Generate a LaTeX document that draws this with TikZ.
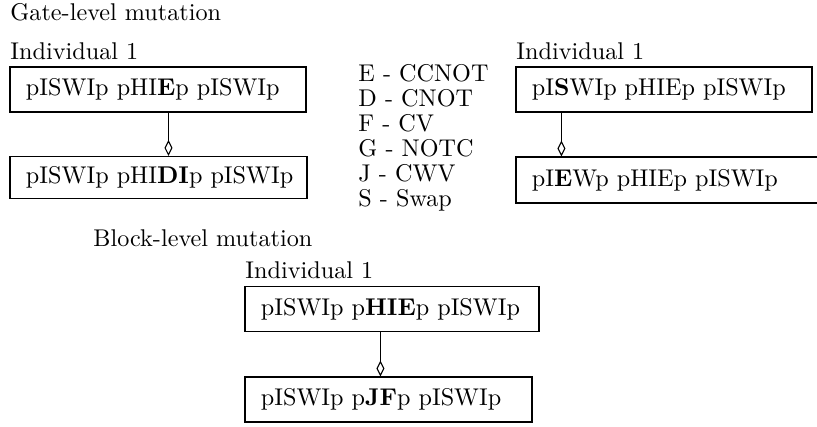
\documentclass[tikz,border=0pt]{standalone}
\usetikzlibrary{arrows.meta}
% gene string, left aligned in a field of fixed width
\newcommand{\gstr}[2]{\makebox[#1][l]{#2}}
\tikzset{
  gene/.style={draw, line width=0.45pt, rectangle, inner xsep=6.6pt, inner ysep=0pt,
    minimum height=18.6pt},
  lbl/.style={anchor=base west, inner sep=0pt},
  mut/.style={line width=0.45pt, -{Diamond[open, length=6.6pt, width=3.3pt]}},
}
\begin{document}
\begin{tikzpicture}[x=0.4132pt, y=-0.4132pt]
\useasboundingbox (0,0) rectangle (817,427);

% gate-level mutation, left pair
\node[lbl] (t1) at (10,21) {Gate-level mutation};
\node[lbl] (i1) at (10,60) {Individual 1};
\node[gene] (g1) at (158,89.5) {\gstr{109.1pt}{pISWIp pHI\textbf{E}p pISWIp}};
\node[gene, minimum height=17.4pt] (g2) at (158.5,177.5) {\gstr{109.5pt}{pISWIp pHI\textbf{DI}p pISWIp}};
\coordinate (a1) at ([xshift=65.7pt]g1.south west);
\draw[mut] (a1) -- (a1 |- g2.north);

% legend
\foreach \t [count=\i] in {E - CCNOT, D - CNOT, F - CV, G - NOTC, J - CWV, S - Swap}
  \node[lbl] (lg\i) at (358,{82+25*(\i-1)}) {\t};

% gate-level mutation, right pair
\node[lbl] (i2) at (516,60) {Individual 1};
\node[gene] (g3) at (664,89.5) {\gstr{109.1pt}{pI\textbf{S}WIp pHIEp pISWIp}};
\node[gene, minimum height=19pt] (g4) at (671,180) {\gstr{114.9pt}{pI\textbf{E}Wp pHIEp pISWIp}};
\coordinate (a2) at ([xshift=19pt]g3.south west);
\draw[mut] (a2) -- (a2 |- g4.north);

% block-level mutation
\node[lbl] (t2) at (93,247) {Block-level mutation};
\node[lbl] (i3) at (245,279) {Individual 1};
\node[gene] (g5) at (392,309) {\gstr{108.3pt}{pISWIp p\textbf{HIE}p pISWIp}};
\node[gene] (g6) at (388.5,399.5) {\gstr{105.4pt}{pISWIp p\textbf{JF}p pISWIp}};
\coordinate (a3) at ([xshift=56.2pt]g5.south west);
\draw[mut] (a3) -- (a3 |- g6.north);
\end{tikzpicture}
\end{document}
